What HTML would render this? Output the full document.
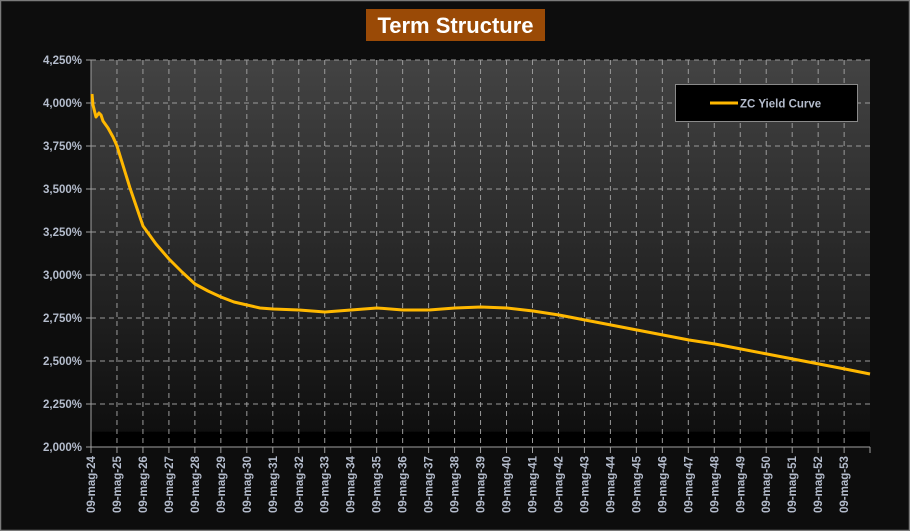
<!DOCTYPE html>
<html><head><meta charset="utf-8"><style>
html,body{margin:0;padding:0;background:#0d0d0d;}
svg{display:block;font-family:"Liberation Sans",sans-serif;}
</style></head><body>
<svg width="910" height="531" viewBox="0 0 910 531" xmlns="http://www.w3.org/2000/svg">
<defs>
<linearGradient id="bg" x1="0" y1="0" x2="0" y2="1">
<stop offset="0" stop-color="#434343"/>
<stop offset="0.96" stop-color="#0f0f0f"/>
<stop offset="0.961" stop-color="#000"/>
<stop offset="1" stop-color="#000"/>
</linearGradient>
</defs>
<rect x="0.5" y="0.5" width="909" height="530" fill="#0d0d0d" stroke="#7a7a7a" stroke-width="1.5"/>
<rect x="366" y="9" width="179" height="32" fill="#9a4a06"/>
<text x="455.5" y="33" text-anchor="middle" fill="#fff" font-size="22" font-weight="bold">Term Structure</text>
<rect x="91" y="60" width="779" height="387" fill="url(#bg)"/>
<g stroke="#9a9a9a" stroke-width="1" stroke-dasharray="5,4" id="grid"></g>
<g id="xlab" fill="#b4bccc" font-size="11.5" font-weight="bold"></g>
<g id="ylab" fill="#b4bccc" font-size="11.5" font-weight="bold" text-anchor="end"></g>
<line x1="91" y1="60" x2="91" y2="447" stroke="#a0a0a0"/>
<line x1="91" y1="447" x2="870" y2="447" stroke="#a0a0a0"/>
<line x1="870" y1="447" x2="870" y2="453" stroke="#a0a0a0"/>
<polyline fill="none" stroke="#ffb800" stroke-width="3" stroke-linejoin="round" points="92,94 93,105 96,117 99,113 101,115 103,121 108,128 113,137 117,146 130,188 143,226 156,244 169,259 182,272 195,284 208,291 221,297 234,302 247,305 260,308 273,309 299,310 325,312 351,310 377,308 403,310 429,310 455,308 481,307 507,308 533,311 559,315 585,320 611,325 637,330 663,335 689,340 715,344 741,349 767,354 793,359 819,364 845,369 870,374"/>
<rect x="675.5" y="84.5" width="182" height="37" fill="#000" stroke="#8a8a8a"/>
<line x1="710" y1="103" x2="738" y2="103" stroke="#ffb800" stroke-width="3"/>
<text x="740" y="107.5" fill="#b4bccc" font-size="11.5" font-weight="bold">ZC Yield Curve</text>
</svg>
<script>
var ns="http://www.w3.org/2000/svg";
var g=document.getElementById('grid'),xl=document.getElementById('xlab'),yl=document.getElementById('ylab');
function el(t,a,p){var e=document.createElementNS(ns,t);for(var k in a)e.setAttribute(k,a[k]);p.appendChild(e);return e;}
var ylabs=["4,250%","4,000%","3,750%","3,500%","3,250%","3,000%","2,750%","2,500%","2,250%","2,000%"];
for(var i=0;i<10;i++){var y=60+i*43;
 if(i<9)el('line',{x1:91,y1:y,x2:870,y2:y},g);
 el('line',{x1:86,y1:y,x2:91,y2:y,stroke:"#a0a0a0","stroke-dasharray":"none"},g);
 var t=el('text',{x:82,y:y+4},yl);t.textContent=ylabs[i];}
for(var j=0;j<30;j++){var x=91+j*25.97;
 if(j>0)el('line',{x1:x,y1:60,x2:x,y2:447},g);
 el('line',{x1:x,y1:447,x2:x,y2:453,stroke:"#a0a0a0","stroke-dasharray":"none"},g);
 var yr=24+j;var t=el('text',{x:0,y:0,transform:"translate("+(x+4)+",513) rotate(-90)"},xl);t.textContent="09-mag-"+yr;}
</script>
</body></html>
